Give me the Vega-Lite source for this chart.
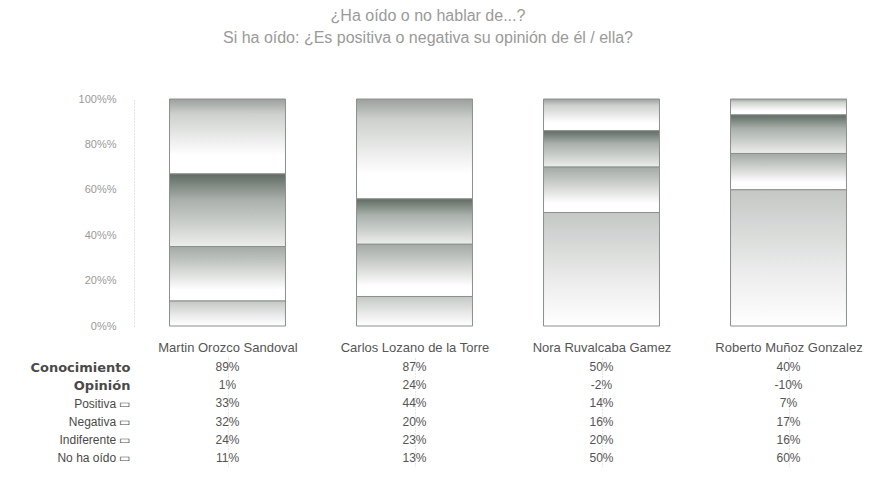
{
  "$schema": "https://vega.github.io/schema/vega-lite/v6.json",
  "background": "white",
  "padding": {"left": 29, "top": 8, "right": 0, "bottom": 0},
  "title": {
    "text": ["¿Ha oído o no hablar de...?", "Si ha oído: ¿Es positiva o negativa su opinión de él / ella?"],
    "font": "Liberation Sans",
    "fontSize": 16,
    "fontWeight": "normal",
    "color": "#9a9a9a",
    "lineHeight": 22,
    "anchor": "middle",
    "dx": -28,
    "offset": 47
  },
  "config": {"view": {"stroke": null}},
  "data": {
    "values": [
      {"candidato": "Martin Orozco Sandoval", "fila": "Conocimiento", "valor": 89},
      {"candidato": "Martin Orozco Sandoval", "fila": "Opinión", "valor": 1},
      {"candidato": "Martin Orozco Sandoval", "fila": "Positiva", "valor": 33},
      {"candidato": "Martin Orozco Sandoval", "fila": "Negativa", "valor": 32},
      {"candidato": "Martin Orozco Sandoval", "fila": "Indiferente", "valor": 24},
      {"candidato": "Martin Orozco Sandoval", "fila": "No ha oído", "valor": 11},
      {"candidato": "Carlos Lozano de la Torre", "fila": "Conocimiento", "valor": 87},
      {"candidato": "Carlos Lozano de la Torre", "fila": "Opinión", "valor": 24},
      {"candidato": "Carlos Lozano de la Torre", "fila": "Positiva", "valor": 44},
      {"candidato": "Carlos Lozano de la Torre", "fila": "Negativa", "valor": 20},
      {"candidato": "Carlos Lozano de la Torre", "fila": "Indiferente", "valor": 23},
      {"candidato": "Carlos Lozano de la Torre", "fila": "No ha oído", "valor": 13},
      {"candidato": "Nora Ruvalcaba Gamez", "fila": "Conocimiento", "valor": 50},
      {"candidato": "Nora Ruvalcaba Gamez", "fila": "Opinión", "valor": -2},
      {"candidato": "Nora Ruvalcaba Gamez", "fila": "Positiva", "valor": 14},
      {"candidato": "Nora Ruvalcaba Gamez", "fila": "Negativa", "valor": 16},
      {"candidato": "Nora Ruvalcaba Gamez", "fila": "Indiferente", "valor": 20},
      {"candidato": "Nora Ruvalcaba Gamez", "fila": "No ha oído", "valor": 50},
      {"candidato": "Roberto Muñoz Gonzalez", "fila": "Conocimiento", "valor": 40},
      {"candidato": "Roberto Muñoz Gonzalez", "fila": "Opinión", "valor": -10},
      {"candidato": "Roberto Muñoz Gonzalez", "fila": "Positiva", "valor": 7},
      {"candidato": "Roberto Muñoz Gonzalez", "fila": "Negativa", "valor": 17},
      {"candidato": "Roberto Muñoz Gonzalez", "fila": "Indiferente", "valor": 16},
      {"candidato": "Roberto Muñoz Gonzalez", "fila": "No ha oído", "valor": 60}
    ]
  },
  "spacing": 10,
  "vconcat": [
    {
      "width": 748,
      "height": 227,
      "transform": [
        {"filter": "indexof(['Positiva','Negativa','Indiferente','No ha oído'], datum.fila) >= 0"},
        {"calculate": "indexof(['No ha oído','Indiferente','Negativa','Positiva'], datum.fila)", "as": "orden"}
      ],
      "mark": {"type": "bar", "stroke": "#8a918c", "strokeWidth": 1},
      "encoding": {
        "x": {
          "field": "candidato",
          "type": "nominal",
          "sort": ["Martin Orozco Sandoval", "Carlos Lozano de la Torre", "Nora Ruvalcaba Gamez", "Roberto Muñoz Gonzalez"],
          "scale": {"paddingInner": 0.38, "paddingOuter": 0.19},
          "axis": null
        },
        "y": {
          "field": "valor",
          "type": "quantitative",
          "stack": "normalize",
          "scale": {"domain": [0, 1]},
          "axis": {
            "title": null,
            "values": [0, 0.2, 0.4, 0.6, 0.8, 1],
            "labelExpr": "round(datum.value * 100) + '%%'",
            "labelFont": "Liberation Sans",
            "labelFontSize": 11,
            "labelColor": "#999999",
            "labelPadding": 18,
            "ticks": false,
            "grid": false,
            "domainColor": "#c8c8c8",
            "domainDash": [1, 2]
          }
        },
        "order": {"field": "orden", "type": "quantitative", "sort": "ascending"},
        "fill": {
          "condition": [
            {"test": "datum.fila === 'Positiva'", "value": {"gradient": "linear", "x1": 0, "y1": 0, "x2": 0, "y2": 1, "stops": [{"offset": 0, "color": "#9ba09c"}, {"offset": 0.2, "color": "#cdd0cd"}, {"offset": 0.75, "color": "#ffffff"}, {"offset": 1, "color": "#ffffff"}]}},
            {"test": "datum.fila === 'Negativa'", "value": {"gradient": "linear", "x1": 0, "y1": 0, "x2": 0, "y2": 1, "stops": [{"offset": 0, "color": "#5f6b63"}, {"offset": 0.35, "color": "#a9afaa"}, {"offset": 1, "color": "#eceeec"}]}},
            {"test": "datum.fila === 'Indiferente'", "value": {"gradient": "linear", "x1": 0, "y1": 0, "x2": 0, "y2": 1, "stops": [{"offset": 0, "color": "#a3a9a5"}, {"offset": 0.45, "color": "#d6d9d6"}, {"offset": 0.8, "color": "#ffffff"}, {"offset": 1, "color": "#ffffff"}]}}
          ],
          "value": {"gradient": "linear", "x1": 0, "y1": 0, "x2": 0, "y2": 1, "stops": [{"offset": 0, "color": "#c4c8c5"}, {"offset": 0.6, "color": "#ebeceb"}, {"offset": 1, "color": "#ffffff"}]}
        }
      }
    },
    {
      "width": 748,
      "height": 109,
      "transform": [
        {"calculate": "toString(datum.valor) + '%'", "as": "etiqueta"}
      ],
      "mark": {"type": "text", "font": "Liberation Sans", "fontSize": 12, "color": "#555555"},
      "encoding": {
        "x": {
          "field": "candidato",
          "type": "nominal",
          "sort": ["Martin Orozco Sandoval", "Carlos Lozano de la Torre", "Nora Ruvalcaba Gamez", "Roberto Muñoz Gonzalez"],
          "scale": {"paddingInner": 0.38, "paddingOuter": 0.19},
          "axis": {
            "orient": "top",
            "title": null,
            "labelAngle": 0,
            "labelFont": "Liberation Sans",
            "labelFontSize": 13,
            "labelColor": "#555555",
            "labelPadding": 4,
            "domain": false,
            "ticks": false,
            "grid": true,
            "bandPosition": 0,
            "gridColor": "#cccccc",
            "gridDash": [1, 2]
          }
        },
        "y": {
          "field": "fila",
          "type": "nominal",
          "sort": ["Conocimiento", "Opinión", "Positiva", "Negativa", "Indiferente", "No ha oído"],
          "axis": {
            "title": null,
            "domain": false,
            "ticks": false,
            "labelPadding": 4,
            "labelColor": "#4a4a4a",
            "labelExpr": "indexof(['Conocimiento','Opinión'], datum.value) >= 0 ? datum.value : datum.value + ' ▭'",
            "labelFontSize": {"condition": {"test": "indexof(['Conocimiento','Opinión'], datum.value) >= 0", "value": 13}, "value": 12},
            "labelFont": {"condition": {"test": "indexof(['Conocimiento','Opinión'], datum.value) >= 0", "value": "DejaVu Sans"}, "value": "Liberation Sans"},
            "labelFontWeight": {"condition": {"test": "indexof(['Conocimiento','Opinión'], datum.value) >= 0", "value": "bold"}, "value": "normal"}
          }
        },
        "text": {"field": "etiqueta", "type": "nominal"},
        "fontWeight": {
          "condition": {"test": "indexof(['Conocimiento','Opinión'], datum.fila) >= 0", "value": "bold"},
          "value": "normal"
        }
      }
    }
  ]
}
